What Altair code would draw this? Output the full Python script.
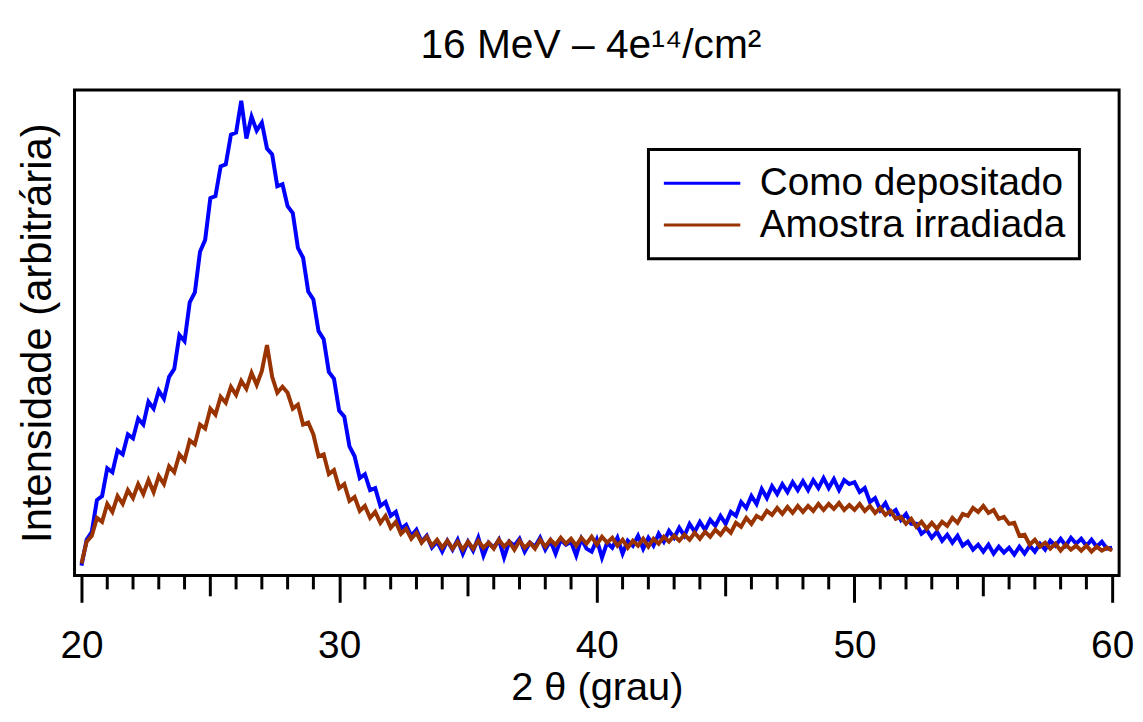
import altair as alt
import pandas as pd

# 2-theta sampling grid (degrees), step 0.2
theta_start = 20.0
theta_step = 0.2

# Intensities (arbitrary units)
como_depositado = [
    10, 36, 44, 76, 80,
    108, 104, 126, 122, 142,
    138, 158, 152, 175, 168,
    186, 178, 200, 208, 242,
    236, 275, 285, 326, 338,
    380, 382, 412, 414, 444,
    446, 478, 440, 462, 448,
    456, 430, 424, 392, 394,
    372, 365, 330, 320, 286,
    278, 246, 238, 205, 198,
    166, 160, 130, 120, 98,
    102, 86, 88, 70, 74,
    60, 64, 47, 51, 40,
    46, 34, 40, 28, 34,
    24, 35, 26, 36, 22,
    34, 25, 38, 20, 33,
    28, 36, 18, 34, 30,
    37, 24, 33, 29, 38,
    26, 35, 22, 36, 31,
    34, 20, 37, 27, 24,
    36, 18, 33, 28, 38,
    22, 35, 30, 40, 27,
    38, 30, 42, 34, 45,
    38, 48, 40, 52, 44,
    54, 46, 56, 50, 60,
    52, 64, 60, 74, 68,
    80, 72, 87, 78, 90,
    82, 92, 84, 94, 86,
    95, 86, 96, 88, 98,
    88, 97, 86, 96, 92,
    94, 84, 88, 74, 78,
    66, 73, 62, 66, 56,
    62, 52, 52, 42, 46,
    38, 44, 35, 41, 33,
    40, 30, 34, 26, 31,
    24, 31, 22, 29, 23,
    28, 21, 29, 22, 30,
    24, 32, 26, 35, 30,
    37, 30, 38, 32, 37,
    30, 36, 29, 34, 27,
    28,
]

amostra_irradiada = [
    12, 34, 40, 58, 54,
    72, 64, 80, 72, 86,
    78, 92, 82, 96, 84,
    100, 92, 110, 104, 122,
    116, 136, 132, 152, 148,
    168, 162, 180, 174, 190,
    182, 196, 188, 204, 192,
    206, 232, 200, 184, 190,
    184, 168, 172, 152, 154,
    142, 120, 122, 102, 106,
    88, 92, 75, 79, 65,
    70, 58, 64, 53, 60,
    48, 54, 42, 47, 37,
    43, 33, 39, 30, 36,
    28, 35, 27, 34, 26,
    34, 27, 35, 28, 33,
    27, 36, 29, 34, 26,
    35, 28, 33, 27, 36,
    29, 36, 31, 38, 32,
    37, 30, 38, 32, 39,
    31, 39, 33, 38, 30,
    36, 28, 35, 30, 37,
    29, 37, 32, 39, 34,
    40, 35, 41, 36, 43,
    37, 44, 39, 46, 41,
    48, 43, 53, 49, 58,
    52, 60, 57, 65, 61,
    68, 62, 69, 63, 70,
    64, 70, 65, 72, 66,
    72, 67, 73, 66, 71,
    66, 72, 65, 70, 63,
    68, 61, 65, 57, 59,
    52, 57, 49, 54, 47,
    53, 47, 54, 50, 58,
    53, 62, 60, 68, 64,
    70, 63, 66, 57, 59,
    52, 53, 40, 41, 31,
    36, 29, 33, 27, 32,
    25, 31, 26, 30, 25,
    30, 24, 29, 25, 28,
    25,
]

series_names = ["Como depositado", "Amostra irradiada"]
series_colors = ["#0000ff", "#993300"]

major_ticks = [20, 30, 40, 50, 60]
medium_ticks = [25, 35, 45, 55]
minor_ticks = [21, 22, 23, 24, 26, 27, 28, 29,
               31, 32, 33, 34, 36, 37, 38, 39,
               41, 42, 43, 44, 46, 47, 48, 49,
               51, 52, 53, 54, 56, 57, 58, 59]

FONT = "Liberation Sans"
W, H = 1052, 489

n = len(como_depositado)
assert n == len(amostra_irradiada)
theta = [round(theta_start + theta_step * i, 2) for i in range(n)]

df_blue = pd.DataFrame({"theta": theta, "h": como_depositado, "serie": series_names[0]})
df_brown = pd.DataFrame({"theta": theta, "h": amostra_irradiada, "serie": series_names[1]})
df_minor = pd.DataFrame({"theta": minor_ticks})
df_medium = pd.DataFrame({"theta": medium_ticks})

xscale = alt.Scale(domain=[19.73, 60.27], nice=False, zero=False)
yscale = alt.Scale(domain=[0, 489], nice=False, zero=True)
cscale = alt.Scale(domain=series_names, range=series_colors)

xaxis = alt.Axis(
    values=major_ticks, tickSize=27, tickWidth=3, tickColor="black",
    domain=False, grid=False, labelFontSize=39, labelFont=FONT,
    labelColor="black", labelPadding=25, format="d",
    title="2 θ (grau)", titleFont=FONT, titleFontSize=40,
    titleFontWeight="normal", titleColor="black", titlePadding=2,
)
yaxis = alt.Axis(
    ticks=False, labels=False, domain=False, grid=False,
    title="Intensidade (arbitrária)", titleFont=FONT, titleFontSize=42,
    titleFontWeight="normal", titleColor="black", titlePadding=15,
)
legend = alt.Legend(
    title=None, orient="none", legendX=578, legendY=60,
    direction="vertical", symbolType="stroke", symbolStrokeWidth=3,
    symbolSize=5929, labelFontSize=39, labelFont=FONT, labelColor="black",
    labelOffset=18, labelLimit=600, padding=14, rowPadding=2,
    clipHeight=40, strokeColor="black", fillColor="white",
)

blue = alt.Chart(df_blue).mark_line(strokeWidth=4, strokeJoin="miter").encode(
    x=alt.X("theta:Q", scale=xscale, axis=xaxis),
    y=alt.Y("h:Q", scale=yscale, axis=yaxis),
    color=alt.Color("serie:N", scale=cscale, legend=legend),
)
brown = alt.Chart(df_brown).mark_line(strokeWidth=4, strokeJoin="miter").encode(
    x=alt.X("theta:Q", title="2 θ (grau)"),
    y=alt.Y("h:Q", title="Intensidade (arbitrária)"),
    color=alt.Color("serie:N", scale=cscale, legend=legend),
)
minor = alt.Chart(df_minor).mark_rule(strokeWidth=3, color="black").encode(
    x=alt.X("theta:Q", title="2 θ (grau)"),
    y=alt.value(H), y2=alt.value(H + 14),
)
medium = alt.Chart(df_medium).mark_rule(strokeWidth=3, color="black").encode(
    x=alt.X("theta:Q", title="2 θ (grau)"),
    y=alt.value(H), y2=alt.value(H + 21),
)

chart = alt.layer(blue, brown, minor, medium).properties(
    width=W, height=H,
    autosize=alt.AutoSizeParams(type="none"),
    padding={"left": 67, "top": 80, "right": 16, "bottom": 134},
    title=alt.TitleParams(
        text="16 MeV – 4e¹⁴/cm²", font=FONT, fontSize=41,
        fontWeight="normal", color="black", anchor="middle",
        baseline="alphabetic", offset=26, dx=-6, dy=35,
    ),
).configure_view(stroke="black", strokeWidth=3).configure_legend(strokeWidth=3)

chart.save("out.html", embed_options={"renderer": "svg", "actions": False})
